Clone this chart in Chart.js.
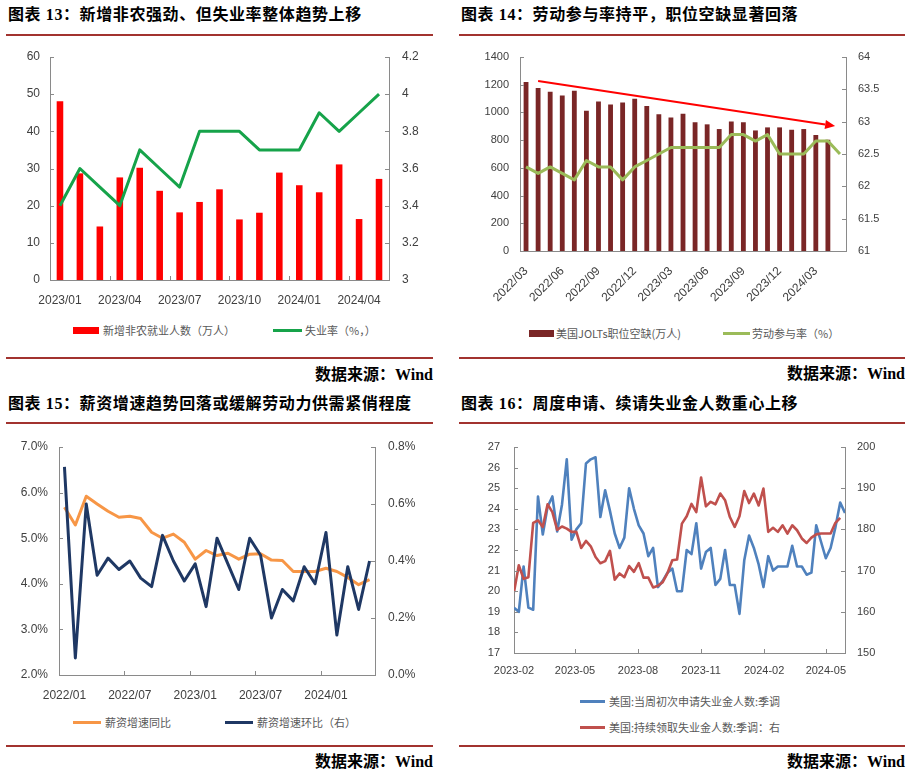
<!DOCTYPE html>
<html><head><meta charset="utf-8">
<script src="https://cdn.jsdelivr.net/npm/chart.js@4.4.1/dist/chart.umd.min.js"></script>
<style>
body{margin:0;background:#fff;}
#wrap{position:relative;width:914px;height:773px;overflow:hidden;background:#fff;}
.title{position:absolute;font-family:"Liberation Serif","Noto Sans CJK SC",serif;font-weight:bold;font-size:16px;color:#000;white-space:nowrap;line-height:20px;letter-spacing:0.6px;}
.rule{position:absolute;height:2px;background:#a2332f;}
.src{position:absolute;font-family:"Liberation Serif","Noto Sans CJK SC",serif;font-weight:bold;font-size:16px;color:#000;white-space:nowrap;line-height:20px;}
canvas{position:absolute;}
.leg{position:absolute;font-family:"Noto Sans CJK SC",sans-serif;font-size:11px;color:#595959;white-space:nowrap;line-height:14px;}
.sw{position:absolute;}
</style></head>
<body>
<div id="wrap">
  <div class="title" style="left:8px;top:5px;">图表 13：新增非农强劲、但失业率整体趋势上移</div>
  <div class="rule" style="left:6px;top:34px;width:427px;"></div>
  <canvas id="c1" width="457" height="270" style="left:0;top:45px;"></canvas>
  <div class="sw" style="left:73px;top:327px;width:26px;height:7px;background:#ff0000;"></div>
  <div class="leg" style="left:103px;top:323px;">新增非农就业人数（万人）</div>
  <div class="sw" style="left:273px;top:329px;width:29px;height:3px;background:#16a34a;"></div>
  <div class="leg" style="left:305px;top:323px;">失业率（%，）</div>
  <div class="rule" style="left:6px;top:357px;width:427px;"></div>
  <div class="src" style="right:481px;top:365px;">数据来源：Wind</div>

  <div class="title" style="left:461px;top:5px;">图表 14：劳动参与率持平，职位空缺显著回落</div>
  <div class="rule" style="left:459px;top:34px;width:446px;"></div>
  <canvas id="c2" width="457" height="275" style="left:457px;top:45px;"></canvas>
  <div class="sw" style="left:529px;top:330px;width:25px;height:7px;background:#7a2626;"></div>
  <div class="leg" style="left:556px;top:326px;">美国JOLTs职位空缺(万人)</div>
  <div class="sw" style="left:723px;top:332px;width:27px;height:3px;background:#9bbb59;"></div>
  <div class="leg" style="left:752px;top:326px;">劳动参与率（%）</div>
  <div class="rule" style="left:459px;top:357px;width:446px;"></div>
  <div class="src" style="right:9px;top:364px;">数据来源：Wind</div>

  <div class="title" style="left:8px;top:394px;">图表 15：薪资增速趋势回落或缓解劳动力供需紧俏程度</div>
  <div class="rule" style="left:6px;top:422px;width:427px;"></div>
  <canvas id="c3" width="457" height="275" style="left:0;top:435px;"></canvas>
  <div class="sw" style="left:73px;top:721px;width:28px;height:3px;background:#f79646;"></div>
  <div class="leg" style="left:105px;top:715px;">薪资增速同比</div>
  <div class="sw" style="left:225px;top:721px;width:28px;height:3px;background:#1f3864;"></div>
  <div class="leg" style="left:257px;top:715px;">薪资增速环比（右）</div>
  <div class="rule" style="left:6px;top:745px;width:427px;"></div>
  <div class="src" style="right:481px;top:752px;">数据来源：Wind</div>

  <div class="title" style="left:461px;top:394px;">图表 16：周度申请、续请失业金人数重心上移</div>
  <div class="rule" style="left:459px;top:422px;width:446px;"></div>
  <canvas id="c4" width="457" height="255" style="left:457px;top:435px;"></canvas>
  <div class="sw" style="left:580px;top:700px;width:25px;height:3px;background:#4f81bd;"></div>
  <div class="leg" style="left:609px;top:694px;">美国:当周初次申请失业金人数:季调</div>
  <div class="sw" style="left:580px;top:726px;width:25px;height:3px;background:#c0504d;"></div>
  <div class="leg" style="left:609px;top:720px;">美国:持续领取失业金人数:季调：右</div>
  <div class="rule" style="left:459px;top:745px;width:446px;"></div>
  <div class="src" style="right:9px;top:752px;">数据来源：Wind</div>
</div>
<script>
// ---------- Chart 13 data ----------
const nfpMonths = ['2023/01','2023/02','2023/03','2023/04','2023/05','2023/06','2023/07','2023/08','2023/09','2023/10','2023/11','2023/12','2024/01','2024/02','2024/03','2024/04','2024/05'];
const nfpValues = [48.1, 28.7, 14.4, 27.6, 30.2, 24.0, 18.2, 21.0, 24.4, 16.3, 18.1, 28.9, 25.5, 23.6, 31.1, 16.4, 27.2];
const unemploymentRate = [3.4, 3.6, 3.5, 3.4, 3.7, 3.6, 3.5, 3.8, 3.8, 3.8, 3.7, 3.7, 3.7, 3.9, 3.8, 3.9, 4.0];

// ---------- Chart 14 data ----------
const joltsMonths = ['2022/03','2022/04','2022/05','2022/06','2022/07','2022/08','2022/09','2022/10','2022/11','2022/12','2023/01','2023/02','2023/03','2023/04','2023/05','2023/06','2023/07','2023/08','2023/09','2023/10','2023/11','2023/12','2024/01','2024/02','2024/03','2024/04','2024/05'];
const joltsOpenings = [1220, 1177, 1149, 1122, 1156, 1012, 1079, 1058, 1072, 1098, 1046, 986, 964, 990, 930, 914, 880, 935, 930, 870, 892, 892, 875, 880, 837, 803, null];
const participationRate = [62.3, 62.2, 62.3, 62.2, 62.1, 62.4, 62.3, 62.3, 62.1, 62.3, 62.4, 62.5, 62.6, 62.6, 62.6, 62.6, 62.6, 62.8, 62.8, 62.7, 62.8, 62.5, 62.5, 62.5, 62.7, 62.7, 62.5];
const trendArrow = { from: [1, 1227], to: [25.6, 902] };

// ---------- Chart 15 data ----------
const wageMonths = ['2022/01','2022/02','2022/03','2022/04','2022/05','2022/06','2022/07','2022/08','2022/09','2022/10','2022/11','2022/12','2023/01','2023/02','2023/03','2023/04','2023/05','2023/06','2023/07','2023/08','2023/09','2023/10','2023/11','2023/12','2024/01','2024/02','2024/03','2024/04','2024/05'];
const wageYoY = [5.68, 5.29, 5.92, 5.75, 5.59, 5.46, 5.48, 5.43, 5.13, 5.00, 5.09, 4.91, 4.54, 4.73, 4.62, 4.67, 4.54, 4.65, 4.66, 4.52, 4.51, 4.27, 4.27, 4.27, 4.34, 4.27, 4.14, 3.98, 4.09];
const wageMoM = [0.73, 0.06, 0.60, 0.35, 0.41, 0.37, 0.40, 0.34, 0.31, 0.49, 0.40, 0.33, 0.39, 0.24, 0.48, 0.39, 0.30, 0.48, 0.42, 0.20, 0.30, 0.26, 0.38, 0.32, 0.50, 0.14, 0.38, 0.23, 0.40];

// ---------- Chart 16 data (weekly, x = days since 2023-02-01) ----------
const claimsStartDay = 0;
const claimsWeekDays = 7;
const initialClaims = [19.2,19.0,21.2,19.2,19.1,24.6,22.75,24.1,24.6,22.9,24.2,26.4,22.5,23.0,23.3,26.2,26.4,26.5,23.6,24.9,23.9,22.8,22.1,22.6,25.0,24.0,23.2,22.8,21.7,22.1,20.2,20.5,20.9,21.1,20.0,20.0,22.0,21.8,23.3,21.1,21.9,22.1,20.3,20.6,22.0,20.3,20.3,18.9,21.5,22.7,22.1,21.3,20.2,21.7,21.0,21.2,21.2,21.2,22.2,21.2,21.2,20.8,20.9,23.2,22.4,21.6,22.1,23.1,24.3,23.8];
const continuingClaims = [164.8,171.3,168.0,168.4,181.6,182.2,180.6,186.1,184.2,179.9,180.7,180.2,179.4,179.4,175.5,177.2,175.9,173.3,171.8,172.3,174.8,167.8,169.3,168.4,171.1,169.7,171.8,168.3,168.3,165.9,166.3,167.2,169.4,172.5,172.7,181.4,183.2,186.2,184.2,192.6,185.6,186.7,186.1,188.7,187.1,183.0,180.6,183.2,189.3,186.4,188.7,185.8,189.9,179.4,180.4,179.4,181.0,179.0,181.0,179.8,177.8,176.7,178.0,178.8,179.0,179.0,179.0,181.6,182.8];
const claimsTickDays = [0, 89, 181, 273, 365, 455];
const claimsTickLabels = ['2023-02','2023-05','2023-08','2023-11','2024-02','2024-05'];
const claimsAxisMaxDay = 483;

// ---------- common ----------
const FONT = '"Liberation Sans", Arial, Helvetica, sans-serif';
const AXIS = '#8a8a8a';
const TICKC = '#404040';
Chart.defaults.animation = false;
Chart.defaults.font.family = FONT;
Chart.defaults.plugins.legend.display = false;
Chart.defaults.plugins.tooltip.enabled = false;

const innerTicks = {
  id: 'innerTicks',
  afterDraw(chart, args, opts) {
    const ctx = chart.ctx, a = chart.chartArea, len = 4;
    ctx.save();
    ctx.strokeStyle = AXIS;
    ctx.lineWidth = 1;
    ctx.beginPath();
    ['y', 'y1'].forEach(id => {
      const s = chart.scales[id];
      if (!s) return;
      s.ticks.forEach(t => {
        const p = Math.round(s.getPixelForValue(t.value)) + 0.5;
        if (s.position === 'left') { ctx.moveTo(a.left, p); ctx.lineTo(a.left + len, p); }
        else { ctx.moveTo(a.right - len, p); ctx.lineTo(a.right, p); }
      });
    });
    const xs = chart.scales.x;
    (opts.xValues || []).forEach(v => {
      const p = Math.round(xs.getPixelForValue(v)) + 0.5;
      ctx.moveTo(p, a.bottom); ctx.lineTo(p, a.bottom - len);
    });
    ctx.stroke();
    ctx.restore();
  }
};

const arrowPlugin = {
  id: 'trendArrow',
  afterDatasetsDraw(chart, args, opts) {
    if (!opts || !opts.from) return;
    const xs = chart.scales.x, ys = chart.scales.y, ctx = chart.ctx;
    const x1 = xs.getPixelForValue(opts.from[0]), y1 = ys.getPixelForValue(opts.from[1]);
    const x2 = xs.getPixelForValue(opts.to[0]), y2 = ys.getPixelForValue(opts.to[1]);
    const ang = Math.atan2(y2 - y1, x2 - x1), hl = 10, hw = 4.5;
    const bx = x2 - hl * Math.cos(ang), by = y2 - hl * Math.sin(ang);
    ctx.save();
    ctx.strokeStyle = '#ff0000'; ctx.fillStyle = '#ff0000'; ctx.lineWidth = 2;
    ctx.beginPath(); ctx.moveTo(x1, y1); ctx.lineTo(bx, by); ctx.stroke();
    ctx.beginPath();
    ctx.moveTo(x2, y2);
    ctx.lineTo(bx + hw * Math.sin(ang), by - hw * Math.cos(ang));
    ctx.lineTo(bx - hw * Math.sin(ang), by + hw * Math.cos(ang));
    ctx.closePath(); ctx.fill();
    ctx.restore();
  }
};

function yAx(pos, min, max, step, fmt, width, pad, size) {
  return {
    position: pos, min: min, max: max,
    ticks: { stepSize: step, callback: fmt, padding: pad, color: TICKC, font: { size: size, family: FONT } },
    grid: { display: false, drawOnChartArea: false, drawTicks: false },
    border: { display: true, color: AXIS, width: 1 },
    afterFit(s) { s.width = width; s.paddingTop = 0; s.paddingBottom = 0; }
  };
}
function catX(labels, every, height, pad, size, rot) {
  return {
    type: 'category', offset: true,
    ticks: { autoSkip: false, maxRotation: rot, minRotation: rot, padding: pad, color: TICKC, font: { size: size, family: FONT },
      callback(v, i) { return i % every === 0 ? labels[i] : ''; } },
    grid: { display: false, drawTicks: false },
    border: { display: true, color: AXIS, width: 1 },
    afterFit(s) { s.height = height; s.paddingLeft = 0; s.paddingRight = 0; }
  };
}
const fmtPlain = v => String(Number(Number(v).toFixed(2)));
const fmtPct1 = v => Number(v).toFixed(1) + '%';

// ---------- Chart 13 ----------
new Chart(document.getElementById('c1'), {
  type: 'bar',
  data: { labels: nfpMonths, datasets: [
    { type: 'line', data: unemploymentRate, yAxisID: 'y1', borderColor: '#16a34a', borderWidth: 3, pointRadius: 0, tension: 0, borderJoinStyle: 'round', order: 1 },
    { type: 'bar', data: nfpValues, yAxisID: 'y', backgroundColor: '#ff0000', categoryPercentage: 1, barPercentage: 0.33, order: 2 }
  ]},
  options: {
    responsive: false, devicePixelRatio: 1,
    layout: { padding: { top: 12, left: 0, right: 0, bottom: 0 } },
    scales: {
      x: catX(nfpMonths, 3, 35, 13, 12, 0),
      y: yAx('left', 0, 60, 10, fmtPlain, 50, 10, 12),
      y1: yAx('right', 3, 4.2, 0.2, fmtPlain, 68, 13, 12)
    },
    plugins: { innerTicks: { xValues: [2.5, 5.5, 8.5, 11.5, 14.5] } }
  },
  plugins: [innerTicks]
});

// ---------- Chart 14 ----------
new Chart(document.getElementById('c2'), {
  type: 'bar',
  data: { labels: joltsMonths, datasets: [
    { type: 'line', data: participationRate, yAxisID: 'y1', borderColor: '#9bbb59', borderWidth: 3, pointRadius: 0, tension: 0, borderJoinStyle: 'round', order: 1 },
    { type: 'bar', data: joltsOpenings, yAxisID: 'y', backgroundColor: '#7a2626', categoryPercentage: 1, barPercentage: 0.4, order: 2 }
  ]},
  options: {
    responsive: false, devicePixelRatio: 1,
    layout: { padding: { top: 12, left: 0, right: 0, bottom: 0 } },
    scales: {
      x: catX(joltsMonths, 3, 69, 13, 12, 45),
      y: yAx('left', 0, 1400, 200, fmtPlain, 63, 11, 11),
      y1: yAx('right', 61, 64, 0.5, fmtPlain, 68, 12, 11)
    },
    plugins: { innerTicks: { xValues: [] }, trendArrow: trendArrow }
  },
  plugins: [innerTicks, arrowPlugin]
});

// ---------- Chart 15 ----------
new Chart(document.getElementById('c3'), {
  type: 'line',
  data: { labels: wageMonths, datasets: [
    { data: wageYoY, yAxisID: 'y', borderColor: '#f79646', borderWidth: 3, pointRadius: 0, tension: 0, borderJoinStyle: 'round', order: 2 },
    { data: wageMoM, yAxisID: 'y1', borderColor: '#1f3864', borderWidth: 3, pointRadius: 0, tension: 0, borderJoinStyle: 'round', order: 1 }
  ]},
  options: {
    responsive: false, devicePixelRatio: 1,
    layout: { padding: { top: 12, left: 0, right: 0, bottom: 0 } },
    scales: {
      x: catX(wageMonths, 6, 35, 13, 12, 0),
      y: yAx('left', 2, 7, 1, fmtPct1, 59, 11, 12),
      y1: yAx('right', 0, 0.8, 0.2, fmtPct1, 82, 13, 12)
    },
    plugins: { innerTicks: { xValues: [5.5, 11.5, 17.5, 23.5] } }
  },
  plugins: [innerTicks]
});

// ---------- Chart 16 ----------
const toPoints = arr => arr.map((v, i) => ({ x: claimsStartDay + claimsWeekDays * i, y: v }));
new Chart(document.getElementById('c4'), {
  type: 'line',
  data: { datasets: [
    { data: toPoints(initialClaims), yAxisID: 'y', borderColor: '#4f81bd', borderWidth: 2.6, pointRadius: 0, tension: 0, borderJoinStyle: 'round', order: 2 },
    { data: toPoints(continuingClaims), yAxisID: 'y1', borderColor: '#c0504d', borderWidth: 2.6, pointRadius: 0, tension: 0, borderJoinStyle: 'round', order: 1 }
  ]},
  options: {
    responsive: false, devicePixelRatio: 1,
    layout: { padding: { top: 12, left: 0, right: 0, bottom: 0 } },
    scales: {
      x: {
        type: 'linear', min: 0, max: claimsAxisMaxDay, offset: false,
        afterBuildTicks(s) { s.ticks = claimsTickDays.map(v => ({ value: v })); },
        ticks: { autoSkip: false, maxRotation: 0, padding: 11, color: TICKC, font: { size: 11, family: FONT },
          callback(v) { const k = claimsTickDays.indexOf(v); return k >= 0 ? claimsTickLabels[k] : ''; } },
        grid: { display: false, drawTicks: false },
        border: { display: true, color: AXIS, width: 1 },
        afterFit(s) { s.height = 37; s.paddingLeft = 0; s.paddingRight = 0; }
      },
      y: yAx('left', 17, 27, 1, fmtPlain, 57, 14, 11),
      y1: yAx('right', 150, 200, 10, fmtPlain, 69, 12, 11)
    },
    plugins: { innerTicks: { xValues: claimsTickDays.slice(1) } }
  },
  plugins: [innerTicks]
});
</script>
</body></html>
